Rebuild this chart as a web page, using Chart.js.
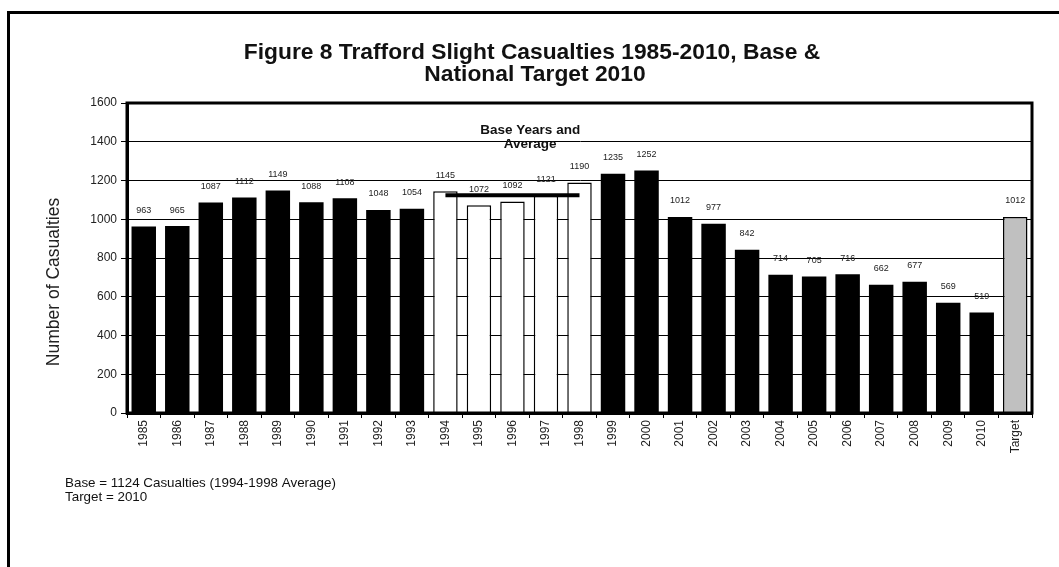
<!DOCTYPE html>
<html>
<head>
<meta charset="utf-8">
<title>Trafford Slight Casualties</title>
<script src="https://cdn.jsdelivr.net/npm/chart.js@4.4.1/dist/chart.umd.min.js"></script>
<style>
  html, body { margin: 0; padding: 0; background: #fff; }
  #wrap { width: 1059px; height: 567px; }
</style>
</head>
<body>
<div id="wrap"><canvas id="casualtyChart"></canvas></div>
<script>
// slight casualties per year, plus the 2010 target
const years = ['1985', '1986', '1987', '1988', '1989', '1990', '1991', '1992', '1993',
  '1994', '1995', '1996', '1997', '1998', '1999', '2000', '2001', '2002', '2003',
  '2004', '2005', '2006', '2007', '2008', '2009', '2010', 'Target'];
const casualties = [963, 965, 1087, 1112, 1149, 1088, 1108, 1048, 1054,
  1145, 1072, 1092, 1121, 1190, 1235, 1252, 1012, 977, 842,
  714, 705, 716, 662, 677, 569, 519, 1012];

const baseYears = ['1994', '1995', '1996', '1997', '1998'];
const baseAverage = 1124;
const targetLabel = 'Target';
const yTicks = [0, 200, 400, 600, 800, 1000, 1200, 1400, 1600];

const titleLines = ['Figure 8 Trafford Slight Casualties 1985-2010, Base &', 'National Target 2010'];
const yTitle = 'Number of Casualties';
const baseNote = ['Base Years and', 'Average'];
const footNotes = ['Base = 1124 Casualties (1994-1998 Average)', 'Target = 2010'];

const FONT = '"Liberation Sans", Arial, sans-serif';

const barColours = years.map(y => y === targetLabel ? '#c0c0c0' : (baseYears.includes(y) ? '#ffffff' : '#000000'));
const averageLine = years.map(y => baseYears.includes(y) ? baseAverage : null);

// page frame, title, axis title and notes
const decorPlugin = {
  id: 'decor',
  beforeDraw(chart) {
    const ctx = chart.ctx;
    ctx.save();
    ctx.fillStyle = '#fff';
    ctx.fillRect(0, 0, chart.width, chart.height);
    ctx.strokeStyle = '#000';
    ctx.lineWidth = 3;
    ctx.strokeRect(8.5, 12.5, chart.width + 40, chart.height + 40);

    ctx.fillStyle = '#111';
    ctx.textAlign = 'center';
    ctx.textBaseline = 'alphabetic';
    ctx.font = 'bold 22.8px ' + FONT;
    ctx.fillText(titleLines[0], 532, 59);
    ctx.fillText(titleLines[1], 535, 81);

    ctx.font = '13.4px ' + FONT;
    ctx.textAlign = 'left';
    ctx.fillText(footNotes[0], 65, 487);
    ctx.fillText(footNotes[1], 65, 501);

    ctx.translate(54, 282);
    ctx.rotate(-Math.PI / 2);
    ctx.textAlign = 'center';
    ctx.textBaseline = 'middle';
    ctx.fillStyle = '#222';
    ctx.font = '17.5px ' + FONT;
    ctx.fillText(yTitle, 0, 0);
    ctx.restore();
  },
  afterDatasetsDraw(chart) {
    const { ctx, chartArea: { top, left, right, bottom }, scales: { x } } = chart;
    ctx.save();
    // box round the plot
    ctx.strokeStyle = '#000';
    ctx.lineWidth = 3;
    ctx.strokeRect(left, top, right - left, bottom - top);

    // values above each bar
    const meta = chart.getDatasetMeta(0);
    ctx.font = '9px ' + FONT;
    ctx.fillStyle = '#222';
    ctx.textAlign = 'center';
    ctx.textBaseline = 'middle';
    meta.data.forEach((bar, i) => {
      ctx.fillText(String(casualties[i]), bar.x, bar.y - 16);
    });

    // label for the base average line
    const midX = (x.getPixelForValue(11) + x.getPixelForValue(12)) / 2;
    ctx.font = 'bold 13.5px ' + FONT;
    ctx.textBaseline = 'alphabetic';
    ctx.fillStyle = '#111';
    ctx.fillText(baseNote[0], midX + 1, 134);
    ctx.fillText(baseNote[1], midX + 1, 148);
    ctx.restore();
  }
};

const ctx = document.getElementById('casualtyChart').getContext('2d');

new Chart(ctx, {
  type: 'bar',
  data: {
    labels: years,
    datasets: [{
      label: 'Slight Casualties',
      data: casualties,
      backgroundColor: barColours,
      borderColor: '#000',
      borderWidth: years.map(y => (baseYears.includes(y) || y === targetLabel) ? 1.5 : 0),
      categoryPercentage: 1,
      barPercentage: 0.73,
      order: 2
    }, {
      type: 'line',
      label: 'Base Average',
      data: averageLine,
      borderColor: '#000',
      borderWidth: 4,
      pointRadius: 0,
      spanGaps: false,
      order: 1
    }]
  },
  options: {
    responsive: true,
    maintainAspectRatio: false,
    animation: false,
    layout: {
      padding: { top: 103, right: 27, bottom: 0, left: 0 }
    },
    scales: {
      x: {
        afterFit: (scale) => { scale.height = 154; },
        grid: {
          display: true,
          drawOnChartArea: false,
          drawTicks: true,
          tickLength: 5,
          color: '#000',
          lineWidth: 1
        },
        border: { color: '#000', width: 3 },
        ticks: {
          minRotation: 90,
          maxRotation: 90,
          autoSkip: false,
          padding: 2,
          color: '#222',
          font: { size: 12, family: FONT }
        }
      },
      y: {
        min: 0,
        max: 1600,
        afterFit: (scale) => { scale.width = 127; },
        afterBuildTicks: (scale) => { scale.ticks = yTicks.map(v => ({ value: v })); },
        grid: {
          color: '#000',
          lineWidth: 1,
          drawTicks: true,
          tickLength: 6
        },
        border: { color: '#000', width: 3 },
        ticks: {
          padding: 4,
          color: '#222',
          font: { size: 12, family: FONT },
          callback: (value) => String(value)
        }
      }
    },
    plugins: {
      legend: { display: false },
      tooltip: { enabled: false },
      title: { display: false }
    }
  },
  plugins: [decorPlugin]
});
</script>
</body>
</html>
